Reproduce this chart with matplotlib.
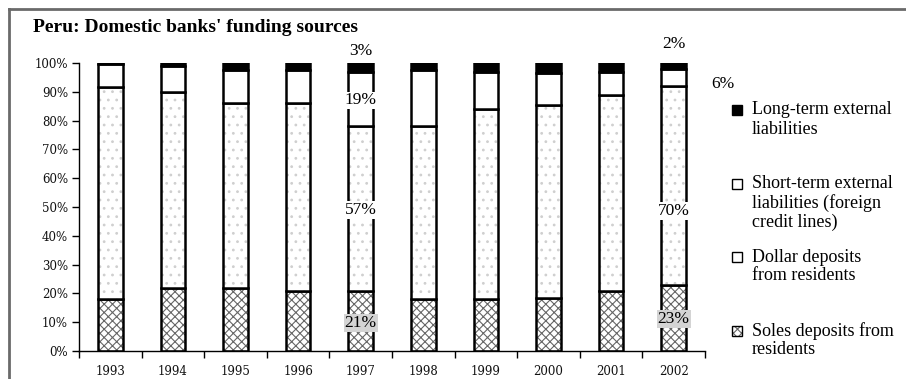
import matplotlib
matplotlib.use("Agg")
import matplotlib.pyplot as plt
import numpy as np
from matplotlib.patches import Rectangle
from matplotlib.lines import Line2D

# Funding sources of Peruvian domestic banks, % of total
years = ["1993", "1994", "1995", "1996", "1997", "1998", "1999", "2000", "2001", "2002"]
soles_deposits = [18, 22, 22, 21, 21, 18, 18, 18.5, 21, 23]
dollar_deposits = [73.5, 68, 64, 65, 57, 60, 66, 67, 68, 70]
short_term_ext = [8, 9, 11.5, 11.5, 19, 19.5, 13, 11, 8, 6]
long_term_ext = [0.5, 1, 2.5, 2.5, 3, 2.5, 3, 3.5, 3, 2]

series_names = [
    "Long-term external\nliabilities",
    "Short-term external\nliabilities (foreign\ncredit lines)",
    "Dollar deposits\nfrom residents",
    "Soles deposits from\nresidents",
]

W, H = 906, 379
fig = plt.figure(figsize=(W / 100, H / 100), dpi=100)
fig.patch.set_facecolor("white")

serif = ["Liberation Serif", "DejaVu Serif"]
plt.rcParams["hatch.linewidth"] = 0.8


def fx(px):
    return px / W


def fy(py):
    return 1 - py / H


ax = fig.add_axes([fx(79), fy(351), fx(705) - fx(79), fy(63) - fy(351)])

raw = np.array([soles_deposits, dollar_deposits, short_term_ext, long_term_ext], dtype=float)
shares = raw / raw.sum(axis=0) * 100

x = np.arange(len(years))
bw = 0.39
styles = [
    dict(facecolor="white", hatch="xxxx", hatch_col="#666666"),     # soles
    dict(facecolor="white", hatch="..", hatch_col="#cfcfcf"),        # dollar
    dict(facecolor="white", hatch=None, hatch_col=None),             # short-term
    dict(facecolor="black", hatch=None, hatch_col=None),             # long-term
]
bottom = np.zeros(len(years))
for k in range(4):
    st = styles[k]
    bars = ax.bar(x, shares[k], bw, bottom=bottom, color=st["facecolor"],
                  edgecolor="black", linewidth=1.8, zorder=2)
    if st["hatch"]:
        for b in bars:
            b.set_hatch(st["hatch"])
            b._hatch_color = matplotlib.colors.to_rgba(st["hatch_col"])
    bottom += shares[k]

ax.set_xlim(-0.5, len(years) - 0.5)
ax.set_ylim(0, 100)
for s in ["top", "right"]:
    ax.spines[s].set_visible(False)
ax.spines["left"].set_linewidth(1.0)
ax.spines["bottom"].set_linewidth(1.0)

ax.set_yticks(np.arange(0, 101, 10))
ax.set_yticklabels([f"{v}%" for v in range(0, 101, 10)])
ax.set_xticks(x)
ax.set_xticklabels(years)
ax.set_xticks(np.arange(-0.5, len(years), 1.0), minor=True)
ax.tick_params(axis="x", which="major", length=0, pad=10)
ax.tick_params(axis="x", which="minor", length=5, width=1.0, direction="out")
ax.tick_params(axis="y", length=5, width=1.0, direction="out", pad=3)
for lab in ax.get_yticklabels() + ax.get_xticklabels():
    lab.set_fontfamily(["DejaVu Serif"])
    lab.set_fontsize(8.5)
    lab.set_color("#111111")

# Value labels for 1997 and 2002
lbl_font = dict(family=serif, fontsize=12.5, color="black")
white_box = dict(boxstyle="square,pad=0.05", facecolor="white", edgecolor="none")
grey_box = dict(boxstyle="square,pad=0.05", facecolor="#d4d4d4", edgecolor="none")
i97 = years.index("1997")
i02 = years.index("2002")
ax.text(i97, 104.2, f"{long_term_ext[i97]:g}%", ha="center", va="center", clip_on=False, **lbl_font)
ax.text(i97, 87, f"{short_term_ext[i97]:g}%", ha="center", va="center", bbox=white_box, zorder=5, **lbl_font)
ax.text(i97, 49, f"{dollar_deposits[i97]:g}%", ha="center", va="center", bbox=white_box, zorder=5, **lbl_font)
ax.text(i97, 9.7, f"{soles_deposits[i97]:g}%", ha="center", va="center", bbox=grey_box, zorder=5, **lbl_font)
ax.text(i02, 106.5, f"{long_term_ext[i02]:g}%", ha="center", va="center", clip_on=False, **lbl_font)
ax.text(i02 + 0.6, 92.7, f"{short_term_ext[i02]:g}%", ha="left", va="center", clip_on=False, **lbl_font)
ax.text(i02, 48.6, f"{dollar_deposits[i02]:g}%", ha="center", va="center", bbox=white_box, zorder=5, **lbl_font)
ax.text(i02, 11, f"{soles_deposits[i02]:g}%", ha="center", va="center", bbox=grey_box, zorder=5, **lbl_font)

# Title
fig.text(fx(33), fy(27), "Peru: Domestic banks' funding sources", family=serif,
         fontsize=14, fontweight="bold", ha="left", va="center")

# Outer frame (top and left edges)
fig.add_artist(Line2D([fx(9), 1.0], [fy(9), fy(9)], color="#6a6a6a", lw=2.0))
fig.add_artist(Line2D([fx(9), fx(9)], [fy(9), 0.0], color="#6a6a6a", lw=2.0))

# Legend drawn beside the plot
legend_rows = [110, 184, 257, 331]
legend_styles = [styles[3], styles[2], styles[1], styles[0]]
pitch = 19
for name, y0, st in zip(series_names, legend_rows, legend_styles):
    sq = Rectangle((fx(732), fy(y0 + 5)), fx(10), fy(0) - fy(10), transform=fig.transFigure,
                   facecolor=st["facecolor"], edgecolor="black", linewidth=1.0)
    if st["hatch"] == "xxxx":
        sq.set_hatch("xxxx")
        sq._hatch_color = matplotlib.colors.to_rgba("#666666")
    fig.add_artist(sq)
    for j, line in enumerate(name.split("\n")):
        fig.text(fx(752), fy(y0 + j * pitch), line, family=serif, fontsize=13,
                 ha="left", va="center")

fig.savefig("out.png", dpi=100, facecolor="white")
